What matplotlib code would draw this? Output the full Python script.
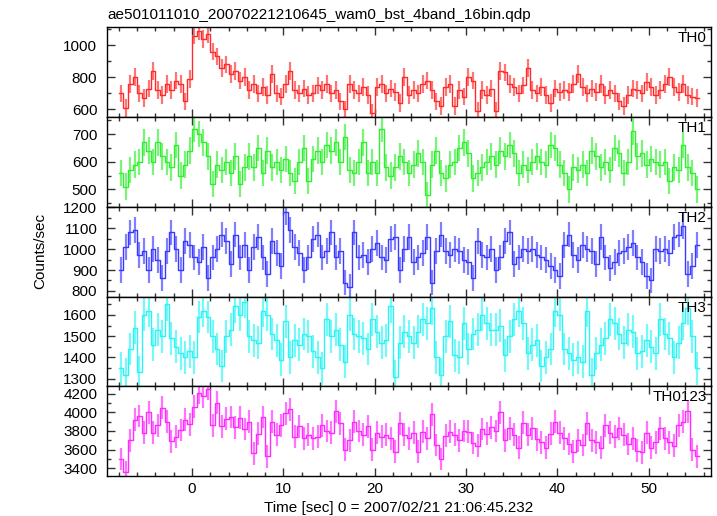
import numpy as np
import matplotlib.pyplot as plt
from matplotlib.ticker import MultipleLocator

plt.rcParams['font.family'] = ['Liberation Sans', 'DejaVu Sans']
plt.rcParams['font.size'] = 11

# light curve binning (sec) at 0.5 s
t0 = -7.75
dt = 0.5

th0 = [700, 610, 760, 800, 700, 670, 730, 840, 720, 690,
       760, 720, 780, 760, 650, 790, 1060, 1090, 1040, 1070,
       960, 930, 860, 880, 820, 840, 780, 800, 720, 760,
       700, 740, 690, 820, 700, 680, 760, 840, 720, 700,
       730, 690, 700, 750, 720, 760, 700, 720, 650, 600,
       760, 720, 700, 740, 690, 580, 740, 760, 700, 730,
       710, 640, 800, 690, 720, 700, 760, 780, 720, 650,
       620, 740, 760, 620, 720, 680, 800, 780, 590, 720,
       690, 730, 590, 840, 830, 760, 740, 700, 750, 860,
       720, 700, 740, 690, 640, 730, 710, 720, 710, 760,
       820, 740, 700, 730, 710, 760, 690, 720, 700, 650,
       620, 690, 730, 720, 700, 770, 740, 690, 720, 760,
       800, 740, 710, 760, 690, 680, 670]

th1 = [560, 510, 570, 590, 600, 670, 640, 600, 670, 620,
       600, 580, 660, 550, 590, 640, 720, 700, 670, 620,
       520, 590, 570, 600, 560, 620, 520, 580, 620, 580,
       650, 560, 640, 580, 600, 570, 610, 560, 530, 600,
       650, 530, 610, 640, 600, 660, 640, 670, 600, 690,
       570, 560, 600, 670, 560, 600, 560, 720, 580, 550,
       580, 620, 600, 560, 590, 630, 600, 480, 590, 640,
       560, 540, 590, 600, 650, 670, 630, 540, 560, 580,
       600, 620, 590, 640, 620, 660, 630, 560, 590, 570,
       600, 620, 600, 590, 660, 650, 590, 560, 500, 580,
       570, 590, 560, 640, 620, 580, 600, 570, 650, 630,
       560, 600, 710, 620, 630, 590, 610, 600, 590, 600,
       530, 580, 570, 660, 580, 560, 500]

th2 = [900, 1010, 1080, 1090, 970, 990, 900, 1000, 950, 860,
       990, 1080, 1000, 900, 1040, 1020, 960, 940, 1010, 860,
       960, 1000, 1070, 1040, 930, 1070, 960, 1020, 900, 1010,
       1060, 960, 880, 1040, 980, 920, 1180, 1090, 1010, 980,
       900, 960, 1050, 1070, 960, 990, 1080, 960, 990, 840,
       820, 1080, 960, 970, 940, 1000, 1030, 960, 950, 1050,
       1060, 900, 1000, 1060, 940, 960, 980, 1060, 840, 990,
       1070, 990, 970, 1000, 990, 950, 940, 860, 1040, 970,
       960, 1000, 900, 960, 1040, 1080, 930, 960, 1000, 990,
       1000, 970, 960, 950, 920, 900, 870, 1020, 1070, 970,
       950, 1020, 1000, 990, 930, 1060, 960, 910, 940, 980,
       990, 1010, 1030, 960, 940, 870, 850, 1000, 990, 1000,
       980, 1060, 1070, 1110, 880, 920, 1020]

th3 = [1350, 1320, 1440, 1540, 1330, 1600, 1620, 1460, 1530, 1500,
       1650, 1490, 1450, 1420, 1400, 1430, 1400, 1590, 1620, 1590,
       1500, 1440, 1360, 1500, 1530, 1640, 1600, 1660, 1500, 1480,
       1470, 1620, 1600, 1510, 1480, 1390, 1570, 1400, 1480, 1460,
       1510, 1500, 1430, 1400, 1350, 1580, 1500, 1530, 1460, 1380,
       1600, 1510, 1500, 1490, 1440, 1580, 1520, 1470, 1480, 1640,
       1310, 1470, 1520, 1500, 1470, 1520, 1580, 1560, 1630, 1400,
       1320, 1500, 1570, 1410, 1400, 1560, 1440, 1510, 1530, 1600,
       1560, 1530, 1530, 1550, 1410, 1500, 1580, 1620, 1560, 1420,
       1460, 1480, 1360, 1400, 1440, 1620, 1600, 1440, 1420, 1390,
       1400, 1380, 1620, 1320, 1420, 1460, 1490, 1580, 1560, 1510,
       1470, 1530, 1520, 1420, 1430, 1480, 1450, 1420, 1580, 1510,
       1490, 1400, 1470, 1560, 1630, 1500, 1350]

th0123 = [3500, 3360, 3700, 3920, 3960, 3780, 4000, 3780, 3860, 4050,
          3900, 3690, 3740, 3810, 3920, 3870, 4060, 4210, 4170, 4250,
          3860, 4100, 3850, 3930, 3950, 3840, 3940, 3820, 3900, 3560,
          3770, 3950, 3530, 3900, 3760, 3860, 3990, 4030, 3740, 3850,
          3720, 3760, 3720, 3740, 3860, 3800, 3780, 4010, 3880, 3600,
          3700, 3900, 3800, 3760, 3850, 3600, 3780, 3740, 3760, 3720,
          3580, 3880, 3760, 3720, 3780, 3580, 3790, 3720, 3980, 3650,
          3500, 3750, 3790, 3760, 3700, 3800, 3790, 3670, 3640, 3820,
          3770, 3840, 3800, 4000, 3700, 3830, 3760, 3620, 3890, 3760,
          3830, 3710, 3680, 3620, 3770, 3900, 3780, 3720, 3660, 3580,
          3700, 3650, 3880, 3700, 3680, 3620, 3860, 3780, 3740, 3830,
          3760, 3660, 3720, 3590, 3570, 3780, 3620, 3680, 3830, 3720,
          3680, 3640, 3860, 3900, 4010, 3600, 3530]

bands = ['TH0', 'TH1', 'TH2', 'TH3', 'TH0123']
rates = [th0, th1, th2, th3, th0123]
errs = [55, 48, 62, 77, 122]
colors = ['#ff2a2a', '#2ef02e', '#3a3aff', '#2af5f5', '#ff2aff']
ylims = [(553, 1111), (437, 762), (773, 1203), (1265, 1686), (3318, 4278)]
ymajor = [200, 100, 100, 100, 200]
yminor = [100, 50, 50, 50, 100]

W, H = 717, 516
fig = plt.figure(figsize=(W / 100, H / 100), dpi=100)

left, right = 107, 711
top, bottom = 27.3, 476
ph = (bottom - top) / 5

for i in range(5):
    ax = fig.add_axes([left / W, 1 - (top + (i + 1) * ph) / H,
                       (right - left) / W, ph / H])
    y = np.array(rates[i])
    t = t0 + dt * np.arange(len(y))
    # light vertical error bars, saturated step line on top
    ax.errorbar(t, y, yerr=errs[i], fmt='none',
                ecolor=colors[i], elinewidth=1.6, alpha=0.65)
    te = np.concatenate([[t[0] - dt / 2], t, [t[-1] + dt / 2]])
    ye = np.concatenate([[y[0]], y, [y[-1]]])
    ax.step(te, ye, where='mid', color=colors[i], lw=1.0)
    ax.set_xlim(-9.3, 56.8)
    ax.set_ylim(*ylims[i])
    ax.xaxis.set_major_locator(MultipleLocator(10))
    ax.xaxis.set_minor_locator(MultipleLocator(2))
    ax.yaxis.set_major_locator(MultipleLocator(ymajor[i]))
    ax.yaxis.set_minor_locator(MultipleLocator(yminor[i]))
    ax.tick_params(which='both', direction='in', top=True, right=True,
                   width=1.0, color='#333333')
    ax.tick_params(which='major', length=6)
    ax.tick_params(which='minor', length=3)
    ax.tick_params(axis='y', pad=7)
    ax.tick_params(axis='x', pad=4)
    if i < 4:
        ax.tick_params(labelbottom=False)
    for s in ax.spines.values():
        s.set_linewidth(1.0)
    ax.text(1 - 4 / (right - left), 1 - 4 / ph, bands[i],
            transform=ax.transAxes, ha='right', va='top')

fig.text(left / W, 1 - 15 / H,
         'ae501011010_20070221210645_wam0_bst_4band_16bin.qdp',
         ha='left', va='center')
fig.text(40 / W, 1 - 251 / H, 'Counts/sec', rotation=90,
         ha='center', va='center')
fig.text(399 / W, 1 - 508 / H, 'Time [sec] 0 = 2007/02/21 21:06:45.232',
         ha='center', va='center')

plt.savefig('out.png', dpi=100)
plt.close()
